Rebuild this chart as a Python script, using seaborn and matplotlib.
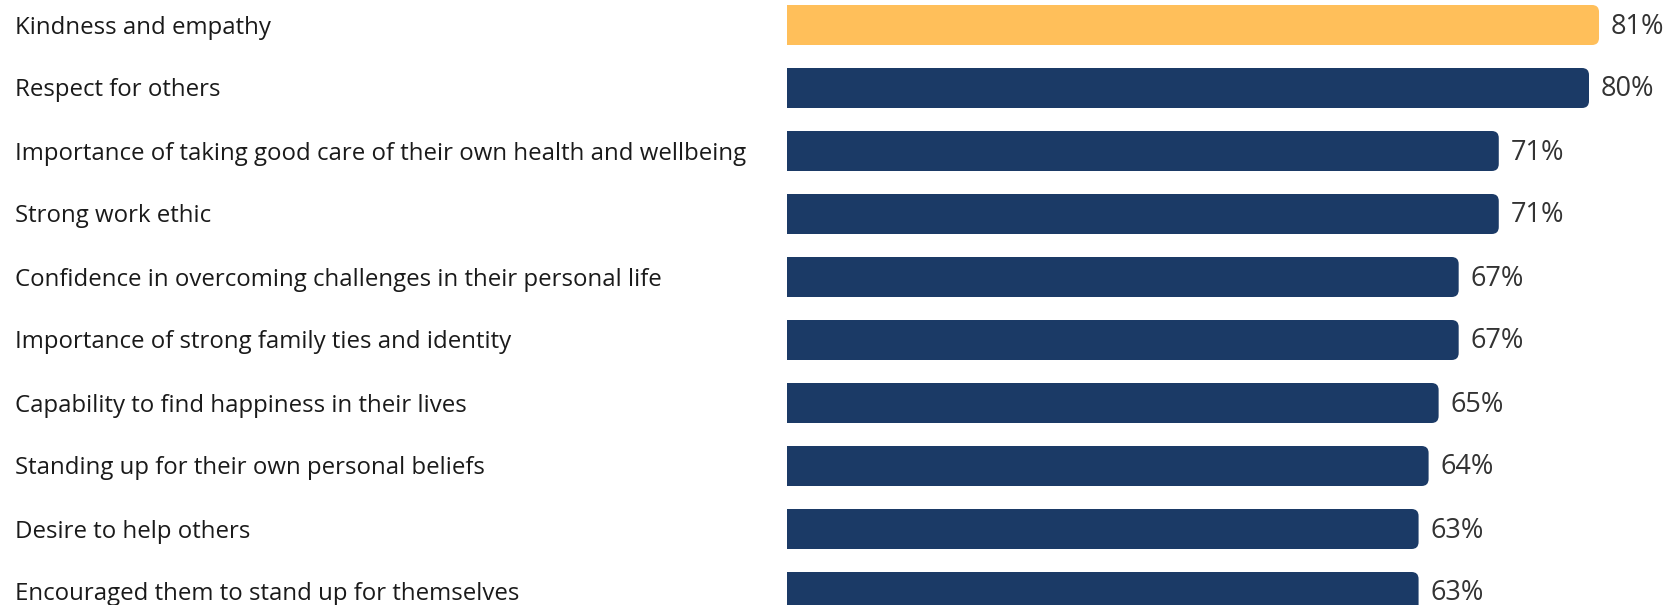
import matplotlib
matplotlib.use("Agg")
import matplotlib.pyplot as plt
from matplotlib.patches import FancyBboxPatch
import matplotlib.transforms as mtransforms
import seaborn as sns
import pandas as pd

categories = [
    "Kindness and empathy",
    "Respect for others",
    "Importance of taking good care of their own health and wellbeing",
    "Strong work ethic",
    "Confidence in overcoming challenges in their personal life",
    "Importance of strong family ties and identity",
    "Capability to find happiness in their lives",
    "Standing up for their own personal beliefs",
    "Desire to help others",
    "Encouraged them to stand up for themselves",
]
values = [81, 80, 71, 71, 67, 67, 65, 64, 63, 63]

ORANGE = "#FFBF5A"
NAVY = "#1B3A66"
colors = [ORANGE] + [NAVY] * (len(categories) - 1)

df = pd.DataFrame({"item": categories, "pct": values})

sns.set_theme(style="white")
plt.rcParams["font.family"] = ["Open Sans", "DejaVu Sans"]

W, H = 1668, 605
ROW = 63
fig = plt.figure(figsize=(W / 100, H / 100), dpi=100)
ax_left = 787
ax = fig.add_axes([ax_left / W, 0, (W - ax_left) / W, 1])

sns.barplot(data=df, y="item", x="pct", hue="item", palette=colors,
            legend=False, orient="h", width=40 / ROW, ax=ax, saturation=1)

px_per_unit = 10.025
ax.set_xlim(0, (W - ax_left) / px_per_unit)
ax.set_ylim((H - 25) / ROW, -25 / ROW)

# swap the square bars for ones with rounded right-hand corners
radius_px = 7
rs_x = radius_px / px_per_unit
rs_y = radius_px / ROW
for p in list(ax.patches):
    x0, y0 = p.get_x(), p.get_y()
    w, h = p.get_width(), p.get_height()
    fc = p.get_facecolor()
    p.remove()
    ax.add_patch(FancyBboxPatch(
        (x0 - 3, y0), w + 3, h,
        boxstyle=f"round,pad=0,rounding_size={rs_x}",
        mutation_aspect=rs_y / rs_x,
        facecolor=fc, edgecolor="none", clip_on=True))

# text sits on a baseline a little below the bar centre
base_off = 8.5 / ROW

for i, v in enumerate(values):
    ax.text(v + 12 / px_per_unit, i + base_off, f"{v}%", va="baseline",
            ha="left", fontsize=19.5, color="#333333")

trans = mtransforms.blended_transform_factory(fig.transFigure, ax.transData)
for i, c in enumerate(categories):
    ax.text(15 / W, i + base_off, c, transform=trans, va="baseline",
            ha="left", fontsize=17.3, color="#1a1a1a", clip_on=False)

ax.set_xlabel("")
ax.set_ylabel("")
ax.set_xticks([])
ax.set_yticks([])
for s in ax.spines.values():
    s.set_visible(False)

fig.savefig("out.png", dpi=100)
